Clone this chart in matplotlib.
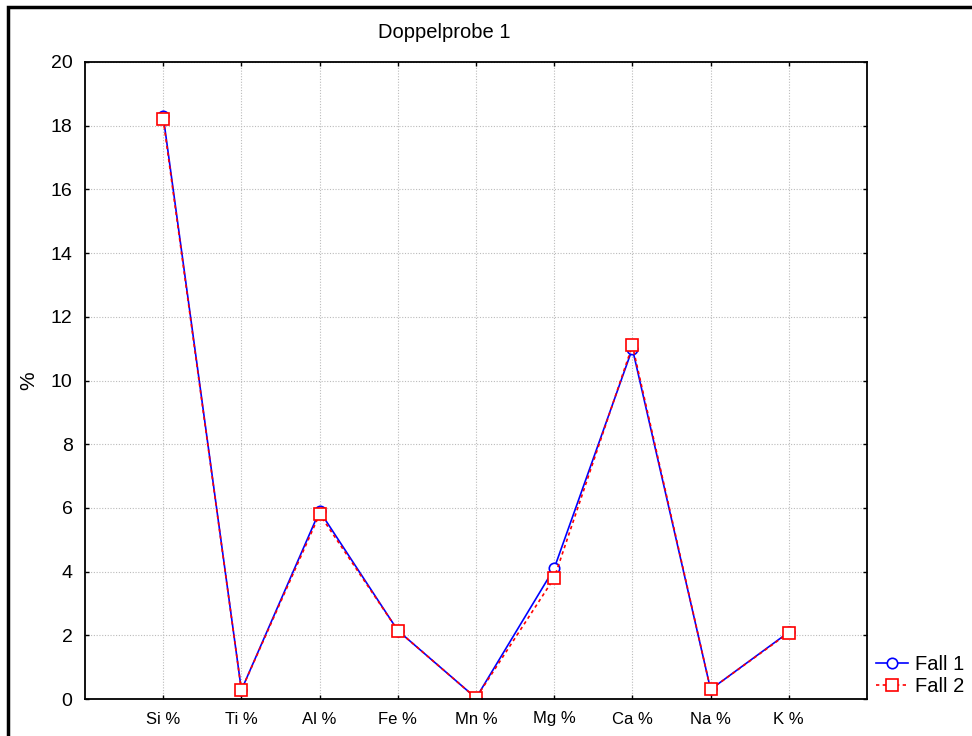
import matplotlib
matplotlib.use("Agg")
import matplotlib.pyplot as plt
from matplotlib.patches import Rectangle

plt.rcParams['font.family'] = ['Liberation Sans', 'DejaVu Sans']

# data
categories = ["Si %", "Ti %", "Al %", "Fe %", "Mn %", "Mg %", "Ca %", "Na %", "K %"]
fall1 = [18.3, 0.28, 5.9, 2.15, 0.03, 4.1, 11.0, 0.3, 2.1]
fall2 = [18.2, 0.28, 5.8, 2.15, 0.03, 3.8, 11.1, 0.3, 2.08]
yticks = [0, 2, 4, 6, 8, 10, 12, 14, 16, 18, 20]

fig = plt.figure(figsize=(9.72, 7.36), dpi=100)
ax = fig.add_axes([85/972, 1 - 699/736, 782/972, 637/736])

xpos = list(range(1, len(categories) + 1))
ax.plot(xpos, fall1, '-', color='blue', lw=1.2, marker='o', markersize=7.5,
        markerfacecolor='white', markeredgecolor='blue', markeredgewidth=1.2, label='Fall 1')
ax.plot(xpos, fall2, '--', color='red', lw=1.2, dashes=(2, 2), marker='s', markersize=8,
        markerfacecolor='white', markeredgecolor='red', markeredgewidth=1.2, label='Fall 2')

ax.set_xlim(0, 10)
ax.set_ylim(0, 20)
ax.set_xticks(xpos)
ax.set_xticklabels(categories, fontsize=12)
ax.set_yticks(yticks)
ax.set_yticklabels([str(v) for v in yticks], fontsize=14)
ax.tick_params(direction='in', length=3, top=True, right=True, width=1)
ax.tick_params(axis='y', pad=9)
ax.tick_params(axis='x', pad=9)
ax.grid(True, color='#bbbbbb', linestyle=(0, (1, 1.5)), linewidth=0.8)
for s in ax.spines.values():
    s.set_linewidth(1.3)

ax.set_ylabel('%', fontsize=15)
ax.yaxis.set_label_coords((38 - 85) / 782, 0.5)
fig.text(444/972, 1 - 33/736, 'Doppelprobe 1', ha='center', va='center', fontsize=14.5)

ax.legend(loc='lower left', bbox_to_anchor=(872/972, 1 - 700/736), bbox_transform=fig.transFigure,
          frameon=False, fontsize=14.5, handlelength=1.6, handletextpad=0.35, labelspacing=0.15,
          borderaxespad=0, borderpad=0.2)

# outer frame (left and top visible in reference)
fig.patches.append(Rectangle((8/972, -0.1), 1.2, 1 - 7/736 + 0.1, transform=fig.transFigure,
                             fill=False, edgecolor='black', linewidth=2.5))

fig.savefig('out.png', dpi=100)
